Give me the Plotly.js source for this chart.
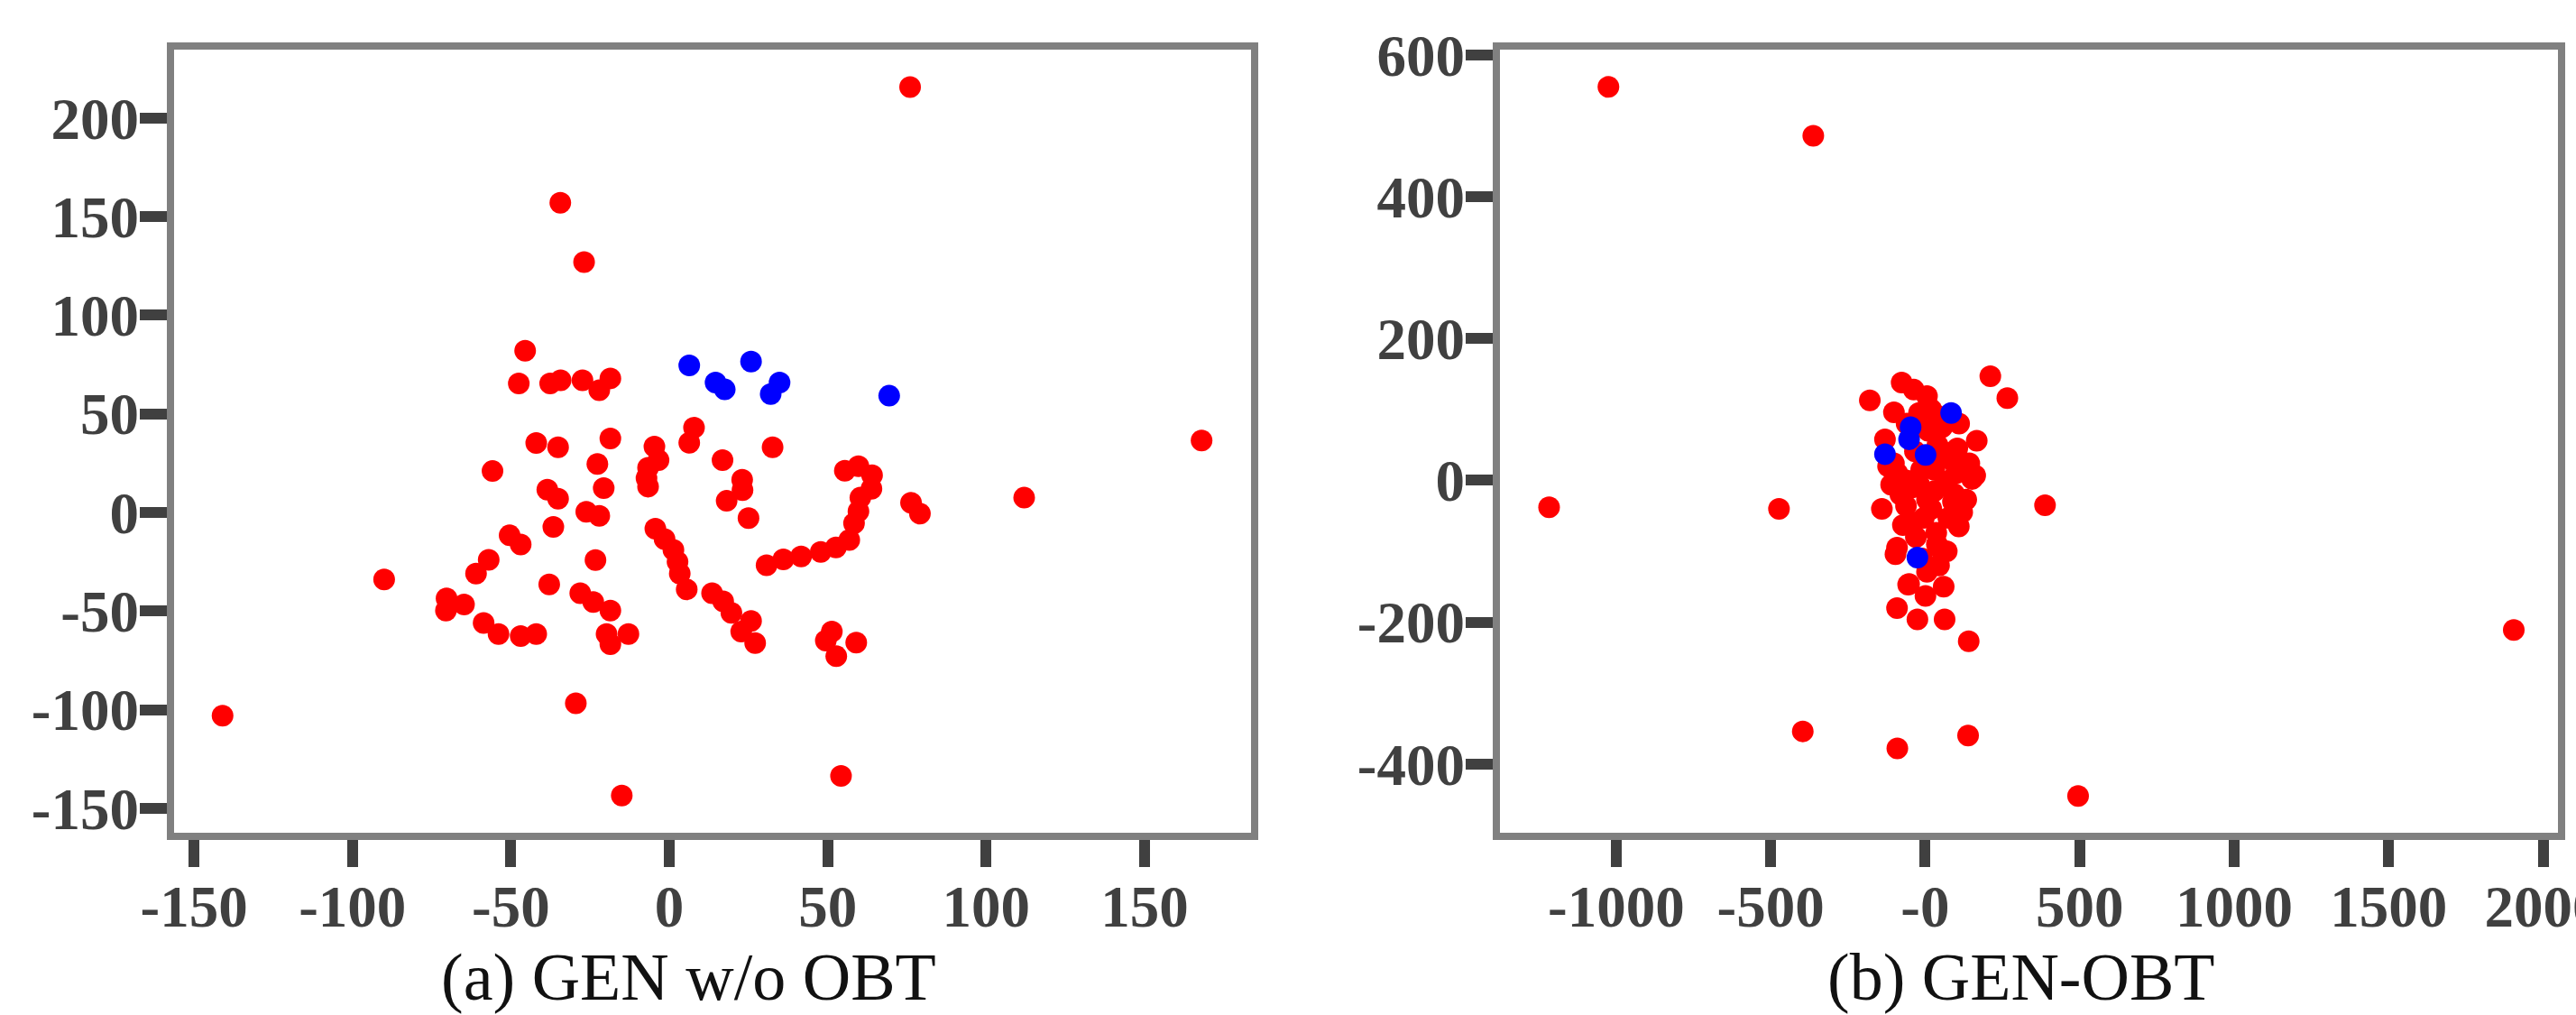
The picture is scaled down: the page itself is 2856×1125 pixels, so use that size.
<!DOCTYPE html>
<html>
<head>
<meta charset="utf-8">
<script src="https://cdn.plot.ly/plotly-3.0.1.min.js"></script>
<style>html,body{margin:0;padding:0;background:#fff;}#chart{width:2856px;height:1125px;}</style>
</head>
<body>
<div id="chart"></div>
<script>
// ---------- Panel (a) GEN w/o OBT ----------
const leftRedX = [-141,-90,-70.3,-70.5,-64.8,-61,-57,-58.6,-53.9,-46.9,-42,-55.8,-50.4,-46.9,-45.5,-47.5,-37.6,-34.3,-27.4,-22.1,-18.6,-42,-35.1,-18.6,-22.7,-20.7,-38.5,-35.1,-36.6,-26.2,-22.1,-23.3,-37.9,-28.1,-24,-18.6,-19.8,-18.6,-12.9,-29.5,-15,-34.4,-26.9,-4.7,-3.4,-6.7,-7.2,-6.7,7.8,6.3,16.8,32.6,23,23.1,18.1,25,-4.4,-1.5,1.3,2.6,3.3,5.5,13.5,17,19.6,25.8,22.7,27.1,51.3,49.4,52.7,59,54.2,30.7,36,41.6,47.8,52.6,56.8,58.3,59.7,60.3,63.8,64,59.7,55.4,76.3,79.1,112,168,76];
const leftRedY = [-103,-34,-43.6,-49.7,-46.7,-31,-24,-56,-61.6,-62.7,-61.6,21,-11.6,-16.2,82,65.4,65.4,67,67,62,68,35.2,33.1,37.5,24.6,12.4,11.6,7,-7.3,0.3,-1.7,-24.1,-36.5,-40.9,-45.4,-49.7,-61.6,-66.8,-61.6,-96.7,-143.5,157,127,33.4,26.5,22.7,17.4,13.1,43,35.4,26.5,33.1,16.6,11.3,5.9,-2.9,-8.2,-13.5,-19,-25,-31,-39,-40.9,-45.1,-50.9,-55,-60.4,-66.2,-60.4,-65,-72.9,-66,-133.6,-26.8,-23.8,-22.3,-20,-17.7,-13.9,-5.5,0.6,7.5,12,18.9,23.5,21.2,4.9,-0.6,7.5,36.5,215.7];
const leftBlueX = [6.3,25.8,14.6,17.5,34.8,32,69.4];
const leftBlueY = [74.6,76.5,65.9,62.4,65.9,60.1,59.2];
const leftXTicks = [-150,-100,-50,0,50,100,150];
const leftXLabels = ["-150","-100","-50","0","50","100","150"];
const leftYTicks = [200,150,100,50,0,-50,-100,-150];
const leftYLabels = ["200","150","100","50","0","-50","-100","-150"];

// ---------- Panel (b) GEN-OBT ----------
const rightRedX = [-1025,-362,-1217,-473,388,1905,-396,-90,139,495,
  -179,211,266,-76,-37,6,-101,36,-130,55,167,-33,55,104,-101,-13,143,162,152,65,-110,-42,94,6,133,-62,-140,75,-4,-72,109,36,-91,45,-96,38,45,6,-52,60,1,-55,-91,-25,63,141,
  -60,10,-90,-20,30,100,-30,20,-10,70,90,-60,40,110,-80,20,-20,120,-120,80,-40,30];
const rightRedY = [555,486,-38,-40,-35,-211,-354,-378,-360,-445,
  113,147,116,138,128,119,96,92,58,75,56,41,41,45,24,15,24,7,2,-2,-6,-10,-19,-27,-27,-36,-40,-53,-53,-63,-65,-74,-95,-95,-104,-90,-120,-129,-146,-150,-163,-147,-180,-196,-196,-227,
  80,70,10,-5,15,10,-80,-40,-110,-100,-30,0,50,80,-20,100,95,-45,20,30,-60,-15];
const rightBlueX = [84,-47,-52,1.5,-130,-25];
const rightBlueY = [95,75,58,36,37,-109];
const rightXTicks = [-1000,-500,0,500,1000,1500,2000];
const rightXLabels = ["-1000","-500","-0","500","1000","1500","2000"];
const rightYTicks = [600,400,200,0,-200,-400];
const rightYLabels = ["600","400","200","0","-200","-400"];

const captions = ["(a) GEN w/o OBT", "(b) GEN-OBT"];

const W = 2856, H = 1125;
const tickFont = {family: "Liberation Serif, Times New Roman, serif", size: 65, color: "#404040", weight: "bold"};
function axisBase(domain, range, vals, labels) {
  return {
    domain: domain, range: range, tickmode: "array", tickvals: vals, ticktext: labels,
    ticks: "outside", ticklen: 30, tickwidth: 12, tickcolor: "#404040",
    showline: true, linewidth: 8, linecolor: "#808080", mirror: true,
    showgrid: false, zeroline: false, tickfont: tickFont, fixedrange: true,
    ticklabelstandoff: -12, ticklabeloverflow: "allow"
  };
}
const marker = (c) => ({color: c, size: 24, line: {width: 0}});

const data = [
  {x: leftRedX, y: leftRedY, type: "scatter", mode: "markers", marker: marker("#ff0000"), xaxis: "x", yaxis: "y", hoverinfo: "none"},
  {x: leftBlueX, y: leftBlueY, type: "scatter", mode: "markers", marker: marker("#0000ff"), xaxis: "x", yaxis: "y", hoverinfo: "none"},
  {x: rightRedX, y: rightRedY, type: "scatter", mode: "markers", marker: marker("#ff0000"), xaxis: "x2", yaxis: "y2", hoverinfo: "none"},
  {x: rightBlueX, y: rightBlueY, type: "scatter", mode: "markers", marker: marker("#0000ff"), xaxis: "x2", yaxis: "y2", hoverinfo: "none"}
];

const yDom = [1 - 923 / H, 1 - 55 / H];
const layout = {
  width: W, height: H, showlegend: false,
  margin: {l: 0, r: 0, t: 0, b: 0},
  paper_bgcolor: "#ffffff", plot_bgcolor: "#ffffff",
  xaxis: axisBase([193 / W, 1387 / W], [-156.3, 183.6], leftXTicks, leftXLabels),
  yaxis: axisBase(yDom, [-162.4, 234.7], leftYTicks, leftYLabels),
  xaxis2: Object.assign(axisBase([1663 / W, 2836 / W], [-1376, 2048], rightXTicks, rightXLabels), {anchor: "y2"}),
  yaxis2: Object.assign(axisBase(yDom, [-497, 607.6], rightYTicks, rightYLabels), {anchor: "x2"}),
  annotations: [
    {text: captions[0], xref: "paper", yref: "paper", x: 763 / W, y: 1 - 1083 / H, xanchor: "center", yanchor: "middle", showarrow: false,
     font: {family: "Liberation Serif, Times New Roman, serif", size: 74, color: "#111111"}},
    {text: captions[1], xref: "paper", yref: "paper", x: 2241 / W, y: 1 - 1083 / H, xanchor: "center", yanchor: "middle", showarrow: false,
     font: {family: "Liberation Serif, Times New Roman, serif", size: 74, color: "#111111"}}
  ]
};
layout.xaxis.anchor = "y";
layout.yaxis.anchor = "x";

Plotly.newPlot("chart", data, layout, {staticPlot: true, displayModeBar: false});
</script>
</body>
</html>
